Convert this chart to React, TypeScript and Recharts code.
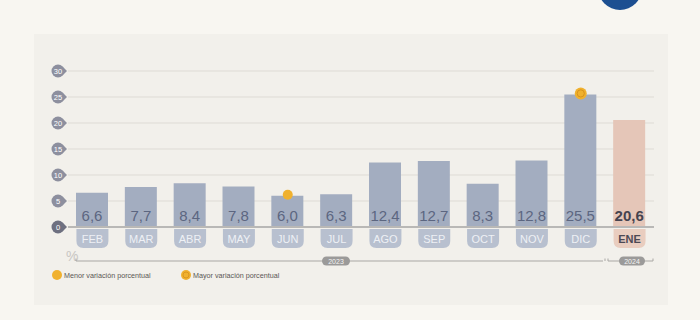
import React from "react";
import { ComposedChart, Bar, XAxis, YAxis, CartesianGrid, Line, LabelList, Cell } from "recharts";

const months = ["FEB", "MAR", "ABR", "MAY", "JUN", "JUL", "AGO", "SEP", "OCT", "NOV", "DIC", "ENE"];
const values = [6.6, 7.7, 8.4, 7.8, 6.0, 6.3, 12.4, 12.7, 8.3, 12.8, 25.5, 20.6];
const years = ["2023", "2023", "2023", "2023", "2023", "2023", "2023", "2023", "2023", "2023", "2023", "2024"];
const yTicks = [0, 5, 10, 15, 20, 25, 30];
const minMonth = "JUN";
const maxMonth = "DIC";
const legendLabels = ["Menor variación porcentual", "Mayor variación porcentual"];

const data = months.map((m, i) => ({
  month: m,
  value: values[i],
  year: years[i],
  min: m === minMonth ? values[i] : null,
  max: m === maxMonth ? values[i] : null,
}));

const FONT = "'Liberation Sans', Arial, sans-serif";
const BAR = "#a3adc0";
const TAB = "#b8c0cf";
const BAR_HL = "#e5c6b8";
const TAB_HL = "#e9cdbf";
const ORANGE = "#f0b12e";

const YTick = (props: any) => {
  const { x, y, payload } = props;
  const cx = x - 10;
  const isZero = payload.value === 0;
  const fill = isZero ? "#6e7080" : "#8d8f9e";
  const d = `M ${cx + 4.5} ${cy(y) - 4.5} L ${cx + 9} ${y} L ${cx + 4.5} ${y + 4.5} Z`;
  return (
    <g>
      <circle cx={cx} cy={y} r={6.5} fill={fill} />
      <path d={d} fill={fill} />
      <text x={cx} y={y} dy={0.5} textAnchor="middle" dominantBaseline="central" fontSize={7.5} fill="#ffffff" fontFamily={FONT}>
        {payload.value}
      </text>
    </g>
  );
};
function cy(v: number) {
  return v;
}

const XTick = (props: any) => {
  const { x, y, payload } = props;
  const hl = payload.value === "ENE";
  const w = 32;
  const top = y + 2;
  const h = 19;
  const r = 7;
  const l = x - w / 2;
  const rr = x + w / 2;
  const d = `M ${l} ${top} L ${rr} ${top} L ${rr} ${top + h - r} Q ${rr} ${top + h} ${rr - r} ${top + h} L ${l + r} ${top + h} Q ${l} ${top + h} ${l} ${top + h - r} Z`;
  return (
    <g>
      <path d={d} fill={hl ? TAB_HL : TAB} />
      <text
        x={x}
        y={top + h / 2 + 0.5}
        textAnchor="middle"
        dominantBaseline="central"
        fontSize={11}
        fontWeight={hl ? 700 : 400}
        fill={hl ? "#4d4a55" : "#eef0f5"}
        fontFamily={FONT}
      >
        {payload.value}
      </text>
    </g>
  );
};

const ValueLabel = (props: any) => {
  const { x, y, width, height, value, index } = props;
  const hl = months[index] === "ENE";
  return (
    <text
      x={x + width / 2}
      y={y + height - 12}
      textAnchor="middle"
      dominantBaseline="central"
      fontSize={15}
      fontWeight={hl ? 700 : 400}
      fill={hl ? "#45434f" : "#5c6680"}
      fontFamily={FONT}
    >
      {String(value.toFixed(1)).replace(".", ",")}
    </text>
  );
};

const MinDot = (props: any) => {
  const { cx, cy: py, value } = props;
  if (value == null || cx == null) return <g />;
  return <circle cx={cx} cy={py - 1} r={5} fill={ORANGE} />;
};

const MaxDot = (props: any) => {
  const { cx, cy: py, value } = props;
  if (value == null || cx == null) return <g />;
  return (
    <g>
      <circle cx={cx} cy={py - 1} r={6} fill={ORANGE} />
      <circle cx={cx} cy={py - 1} r={3.6} fill="none" stroke="#d9931c" strokeWidth={1} />
    </g>
  );
};

export default function App() {
  return (
    <div style={{ position: "absolute", left: 0, top: 0, width: 700, height: 320, background: "#f8f6f1", overflow: "hidden", fontFamily: FONT }}>
      <div style={{ position: "absolute", left: 620 - 22, top: -34, width: 44, height: 44, borderRadius: 22, background: "#1d4f91" }} />
      <div style={{ position: "absolute", left: 34, top: 34, width: 634, height: 271, background: "#f2f0eb" }} />
      <div style={{ position: "absolute", left: 0, top: 0 }}>
        <ComposedChart width={700} height={320} data={data} margin={{ top: 71, right: 46, bottom: 69, left: 38 }}>
          <CartesianGrid vertical={false} stroke="#dedbd5" strokeWidth={1} />
          <YAxis
            width={30}
            domain={[0, 30]}
            ticks={yTicks}
            interval={0}
            axisLine={false}
            tickLine={false}
            tickSize={0}
            tickMargin={0}
            tick={<YTick />}
          />
          <XAxis
            dataKey="month"
            height={24}
            interval={0}
            tickLine={false}
            tickSize={0}
            tickMargin={0}
            axisLine={{ stroke: "#b9b8b6", strokeWidth: 2 }}
            tick={<XTick />}
          />
          <Bar dataKey="value" barSize={32} isAnimationActive={false}>
            {data.map((d) => (
              <Cell key={d.month} fill={d.month === "ENE" ? BAR_HL : BAR} />
            ))}
            <LabelList dataKey="value" content={<ValueLabel />} />
          </Bar>
          <Line dataKey="min" stroke="none" isAnimationActive={false} dot={<MinDot />} activeDot={false} />
          <Line dataKey="max" stroke="none" isAnimationActive={false} dot={<MaxDot />} activeDot={false} />
        </ComposedChart>
      </div>
      <svg width={700} height={320} style={{ position: "absolute", left: 0, top: 0, pointerEvents: "none" }}>
        <text x={66} y={256} fontSize={14} fill="#c9c7c4" fontFamily={FONT} dominantBaseline="central">%</text>
        <path d="M 76 258.5 L 76 261 L 603 261" stroke="#a9a7a4" strokeWidth={1} fill="none" />
        <rect x={322} y={256.5} width={28} height={9} rx={4.5} fill="#9b9a99" />
        <text x={336} y={261.3} fontSize={7} fill="#f4f4f4" textAnchor="middle" dominantBaseline="central" fontFamily={FONT}>{years[0]}</text>
        <path d="M 605 258.5 L 605 261 M 608 258.5 L 608 261 L 620 261 M 644 261 L 653 261 L 653 258.5" stroke="#a9a7a4" strokeWidth={1} fill="none" />
        <rect x={619} y={256.5} width={26} height={9} rx={4.5} fill="#9b9a99" />
        <text x={632} y={261.3} fontSize={7} fill="#f4f4f4" textAnchor="middle" dominantBaseline="central" fontFamily={FONT}>{years[11]}</text>
        <circle cx={57} cy={275} r={5} fill={ORANGE} />
        <text x={64} y={275.5} fontSize={7.2} fill="#5a5755" dominantBaseline="central" fontFamily={FONT}>{legendLabels[0]}</text>
        <circle cx={186} cy={275} r={5} fill={ORANGE} />
        <circle cx={186} cy={275} r={3} fill="none" stroke="#d9931c" strokeWidth={0.9} />
        <text x={193} y={275.5} fontSize={7.2} fill="#5a5755" dominantBaseline="central" fontFamily={FONT}>{legendLabels[1]}</text>
      </svg>
    </div>
  );
}
